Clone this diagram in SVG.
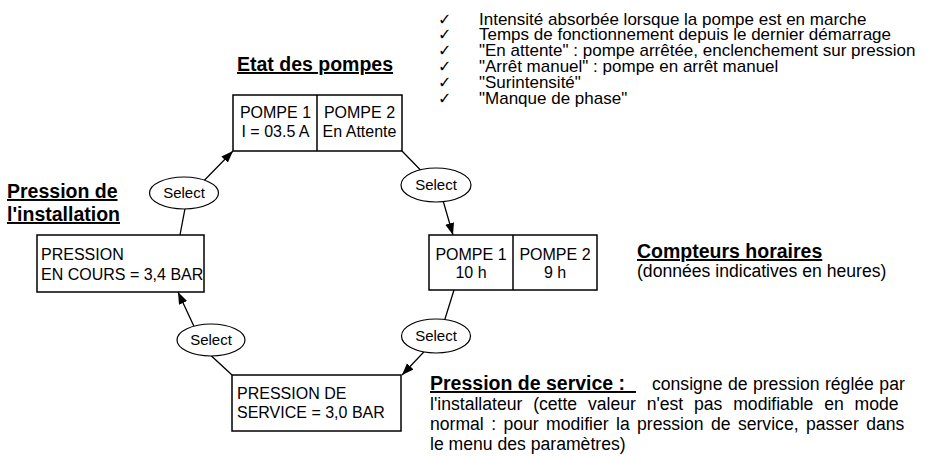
<svg xmlns="http://www.w3.org/2000/svg" width="938" height="456" viewBox="0 0 938 456">
<defs>
<marker id="arr" markerWidth="13" markerHeight="10" refX="12" refY="4.5" orient="auto" markerUnits="userSpaceOnUse"><path d="M0,0 L12,4.5 L0,9 z" fill="#000"/></marker>
<style>
text{font-family:"Liberation Sans",Arial,sans-serif;fill:#000}
.box{fill:#fff;stroke:#000;stroke-width:1.5}
.sel{fill:#fff;stroke:#000;stroke-width:1.2}
.t16{font-size:16px}
.c{text-anchor:middle}
.h{font-size:19.5px;font-weight:bold;text-decoration:underline}
.conn{fill:none;stroke:#000;stroke-width:1.3}
.bul{font-size:17px}
.chk{font-family:"DejaVu Sans",sans-serif;font-size:16px}
.p{font-size:17.6px}
.st{font-size:15px;text-anchor:middle}
</style>
</defs>
<rect width="938" height="456" fill="#fff"/>

<g id="connectors">
<path class="conn" d="M180,235 L187,198 L233,151" marker-end="url(#arr)"/>
<path class="conn" d="M402,151 L440,190 L453,235" marker-end="url(#arr)"/>
<path class="conn" d="M454,290 L440,335 L402,375" marker-end="url(#arr)"/>
<path class="conn" d="M232,375 L205,350 L178,292" marker-end="url(#arr)"/>
</g>

<g id="select-1"><ellipse class="sel" cx="184" cy="193" rx="34.5" ry="16"/><text class="st" x="184" y="198">Select</text></g>
<g id="select-2"><ellipse class="sel" cx="436" cy="185" rx="35" ry="17"/><text class="st" x="436" y="190">Select</text></g>
<g id="select-3"><ellipse class="sel" cx="436" cy="336" rx="34.5" ry="17"/><text class="st" x="436" y="341">Select</text></g>
<g id="select-4"><ellipse class="sel" cx="211" cy="340" rx="34" ry="16"/><text class="st" x="211" y="345">Select</text></g>

<g id="etat-pompes">
<text class="h" x="237" y="71">Etat des pompes</text>
<rect class="box" x="233" y="95" width="169" height="56"/>
<line x1="317" y1="95" x2="317" y2="151" stroke="#000" stroke-width="1.5"/>
<text class="t16 c" x="275.5" y="118">POMPE 1</text>
<text class="t16 c" x="275.5" y="137">I = 03.5 A</text>
<text class="t16 c" x="359.5" y="118">POMPE 2</text>
<text class="t16 c" x="359.5" y="137">En Attente</text>
</g>

<g id="liste-etats">
<text class="chk"><tspan x="438" y="24.5">✓</tspan><tspan x="438" y="40.3">✓</tspan><tspan x="438" y="56.1">✓</tspan><tspan x="438" y="71.9">✓</tspan><tspan x="438" y="87.7">✓</tspan><tspan x="438" y="103.5">✓</tspan></text>
<text class="bul"><tspan x="479" y="24.5">Intensité absorbée lorsque la pompe est en marche</tspan><tspan x="479" y="40.3">Temps de fonctionnement depuis le dernier démarrage</tspan><tspan x="479" y="56.1">"En attente" : pompe arrêtée, enclenchement sur pression</tspan><tspan x="479" y="71.9">"Arrêt manuel" : pompe en arrêt manuel</tspan><tspan x="479" y="87.7">"Surintensité"</tspan><tspan x="479" y="103.5">"Manque de phase"</tspan></text>
</g>

<g id="compteurs">
<rect class="box" x="429" y="235" width="168" height="55"/>
<line x1="513" y1="235" x2="513" y2="290" stroke="#000" stroke-width="1.5"/>
<text class="t16 c" x="471" y="260">POMPE 1</text>
<text class="t16 c" x="471" y="278">10 h</text>
<text class="t16 c" x="555" y="260">POMPE 2</text>
<text class="t16 c" x="555" y="278">9 h</text>
<text class="h" x="637" y="258">Compteurs horaires</text>
<text class="p" x="637" y="277">(données indicatives en heures)</text>
</g>

<g id="pression-service">
<rect class="box" x="232" y="375" width="169" height="56"/>
<text class="t16" x="237" y="399">PRESSION DE</text>
<text class="t16" x="237" y="418">SERVICE = 3,0 BAR</text>
<text class="h" x="430" y="390">Pression de service :&#160;&#160;</text>
<text class="p" x="652" y="390" word-spacing="0.6">consigne de pression réglée par</text>
<text class="p" x="430" y="410" word-spacing="5.9">l'installateur (cette valeur n'est pas modifiable en mode</text>
<text class="p" x="430" y="430" word-spacing="2.5">normal : pour modifier la pression de service, passer dans</text>
<text class="p" x="430" y="450">le menu des paramètres)</text>
</g>

<g id="pression-installation">
<text class="h" x="7" y="198">Pression de</text>
<text class="h" x="7" y="221">l'installation</text>
<rect class="box" x="37" y="235" width="167" height="57"/>
<text class="t16" x="41" y="260">PRESSION</text>
<text class="t16" x="41" y="280">EN COURS = 3,4 BAR</text>
</g>
</svg>
